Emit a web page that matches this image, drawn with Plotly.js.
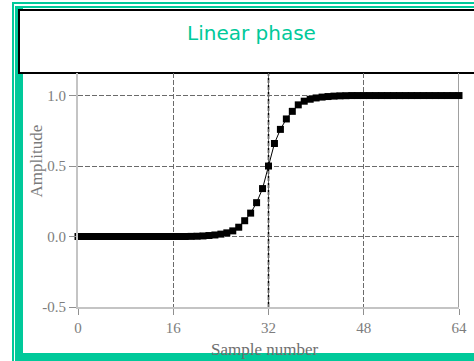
<!DOCTYPE html>
<html>
<head>
<meta charset="utf-8">
<script src="https://cdn.plot.ly/plotly-3.0.1.min.js"></script>
<style>
  html, body { margin: 0; padding: 0; background: #ffffff; overflow: hidden; }
  .page { position: relative; width: 474px; height: 361px; overflow: hidden; }
  /* decorative frame, open to the right and bottom */
  .rule-outer { position: absolute; left: 12px; top: 2px; width: 1000px; height: 1000px;
                border-left: 2px solid #00c99a; border-top: 2px solid #00c99a; }
  .band-outer { position: absolute; left: 15px; top: 6px; width: 1000px; height: 1000px;
                background: #00c99a; }
  .band-inner { position: absolute; left: 23px; top: 8px; width: 1000px; height: 345px;
                background: #ffffff; }
  .title-box  { position: absolute; left: 18px; top: 9px; width: 1000px; height: 61px;
                background: #ffffff; border: 2px solid #000000; }
  #chart { position: absolute; left: 0; top: 0; width: 474px; height: 361px; }
</style>
</head>
<body>
<div class="page">
  <div class="rule-outer"></div>
  <div class="band-outer"></div>
  <div class="band-inner"></div>
  <div class="title-box"></div>
  <div id="chart"></div>
</div>
<script>
// Step response of a linear-phase filter, one value per sample
const sampleNumbers = [
  0, 1, 2, 3, 4, 5, 6, 7, 8, 9, 10, 11, 12, 13, 14, 15, 16,
  17, 18, 19, 20, 21, 22, 23, 24, 25, 26, 27, 28, 29, 30, 31, 32,
  33, 34, 35, 36, 37, 38, 39, 40, 41, 42, 43, 44, 45, 46, 47, 48,
  49, 50, 51, 52, 53, 54, 55, 56, 57, 58, 59, 60, 61, 62, 63, 64
];
const amplitudes = [
  0, 0, 0, 0, 0, 0, 0, 0, 0, 0, 0, 0, 0, 0, 0, 0, 0,
  0, 0, 0.001, 0.002, 0.004, 0.007, 0.011, 0.017, 0.026, 0.040, 0.066, 0.112, 0.166, 0.240, 0.340, 0.500,
  0.660, 0.760, 0.834, 0.888, 0.934, 0.960, 0.974, 0.983, 0.989, 0.993, 0.996, 0.998, 0.999, 1, 1, 1,
  1, 1, 1, 1, 1, 1, 1, 1, 1, 1, 1, 1, 1, 1, 1, 1
];

const xTickVals = [0, 16, 32, 48, 64];
const xTickText = ["0", "16", "32", "48", "64"];
const yTickVals = [-0.5, 0, 0.5, 1.0];
const yTickText = ["-0.5", "0.0", "0.5", "1.0"];

const chartTitle = "Linear phase";
const xTitle = "Sample number";
const yTitle = "Amplitude";

// Page geometry (pixels) and helpers to place text in paper space
const W = 474, H = 361;
const M = { l: 78, r: 15, t: 73, b: 54 };
const PW = W - M.l - M.r, PH = H - M.t - M.b;
const px = v => (v - M.l) / PW;
const py = v => (H - M.b - v) / PH;

const green = "#00c99a";
const tickFont = { family: "Liberation Serif, Times New Roman, serif", size: 15, color: "#7d7d7d" };

const trace = {
  x: sampleNumbers,
  y: amplitudes,
  type: "scatter",
  mode: "lines+markers",
  line: { color: "#000000", width: 1 },
  marker: { symbol: "square", size: 7, color: "#000000" },
  cliponaxis: false,
  hoverinfo: "x+y"
};

const shapes = [
  // emphasised centre line
  { type: "line", xref: "x", yref: "paper", layer: "below",
    x0: xTickVals[2], x1: xTickVals[2], y0: 0, y1: 1,
    line: { color: "#000000", width: 1.5, dash: "5px,2px" } },
  // right-hand border of the plot
  { type: "line", xref: "x", yref: "paper", layer: "below",
    x0: xTickVals[4], x1: xTickVals[4], y0: 0, y1: 1,
    line: { color: "#a0a0a0", width: 2 } }
];

const annotations = [
  { text: chartTitle, xref: "paper", yref: "paper", x: px(251), y: py(33),
    xanchor: "center", yanchor: "middle", showarrow: false,
    font: { family: "DejaVu Sans, Verdana, sans-serif", size: 20, color: green } },
  { text: yTitle, xref: "paper", yref: "paper", x: px(36), y: py(161.5),
    xanchor: "center", yanchor: "middle", showarrow: false, textangle: -90,
    font: { family: "Liberation Serif, Times New Roman, serif", size: 17, color: "#7a7a7a" } },
  { text: xTitle, xref: "paper", yref: "paper", x: px(265), y: py(349.5),
    xanchor: "center", yanchor: "middle", showarrow: false,
    font: { family: "Liberation Serif, Times New Roman, serif", size: 17, color: "#6e6e6e" } }
];

const layout = {
  width: W,
  height: H,
  margin: M,
  paper_bgcolor: "rgba(0,0,0,0)",
  plot_bgcolor: "rgba(0,0,0,0)",
  showlegend: false,
  xaxis: {
    range: [0, 64],
    tickmode: "array",
    tickvals: xTickVals,
    ticktext: xTickText,
    ticks: "outside",
    ticklen: 6,
    tickwidth: 1,
    tickcolor: "#909090",
    tickfont: tickFont,
    showline: true,
    linecolor: "#c4c4c4",
    linewidth: 2,
    showgrid: true,
    gridcolor: "#6a6a6a",
    gridwidth: 1,
    griddash: "5px,2px",
    zeroline: false,
    fixedrange: true
  },
  yaxis: {
    range: [-0.5, 1.16],
    tickmode: "array",
    tickvals: yTickVals,
    ticktext: yTickText,
    ticks: "outside",
    ticklen: 7,
    tickwidth: 1,
    tickcolor: "#909090",
    tickfont: tickFont,
    showline: true,
    linecolor: "#c4c4c4",
    linewidth: 2,
    showgrid: true,
    gridcolor: "#6a6a6a",
    gridwidth: 1,
    griddash: "5px,2px",
    zeroline: false,
    fixedrange: true
  },
  shapes: shapes,
  annotations: annotations
};

Plotly.newPlot("chart", [trace], layout, { displayModeBar: false, staticPlot: true });
</script>
</body>
</html>
